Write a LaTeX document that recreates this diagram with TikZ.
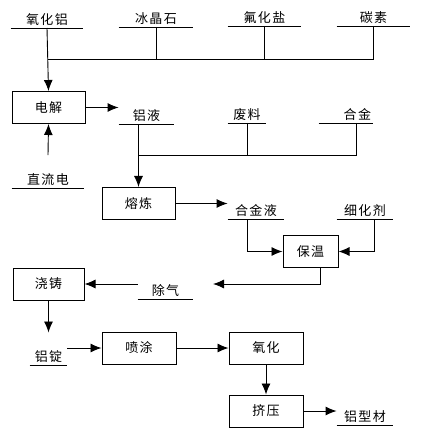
\documentclass[tikz,border=0pt]{standalone}
\usepackage{fontspec}
\newfontfamily\cjk[LetterSpace=10]{Noto Sans CJK SC}
\usepackage{tikz}
\usetikzlibrary{arrows.meta,positioning,calc}
\tikzstyle{box} = [draw,line width=1pt,minimum width=73pt,minimum height=32pt,inner sep=0pt,font=\cjk\fontsize{13}{15}\selectfont]
\tikzstyle{lbl} = [anchor=south,inner xsep=0pt,inner ysep=1pt,text height=11pt,text depth=2pt,font=\cjk\fontsize{13}{15}\selectfont]
\tikzset{>={Latex[length=11pt,width=9pt]}}

\begin{document}
\begin{tikzpicture}[x=1pt,y=-1pt,line width=0.9pt]
    \useasboundingbox (0,0) rectangle (431,443);

    \node [lbl,minimum width=72pt] (yhl) at (47,28) {氧化铝};
    \node [lbl,minimum width=74pt] (bjs) at (156,27) {冰晶石};
    \node [lbl,minimum width=73pt] (fhy) at (264.5,26) {氟化盐};
    \node [lbl,minimum width=73pt] (ts) at (373.5,26) {碳素};
    \node [box] (dj) at (48.5,107.5) {电解};
    \node [lbl,minimum width=55pt] (ly) at (146.5,124) {铝液};
    \node [lbl,minimum width=38pt] (fl) at (247,123) {废料};
    \node [lbl,minimum width=54pt,text width=50pt,align=right] (hj) at (346,123) {合金};
    \node [lbl,minimum width=72pt] (zld) at (48,188) {直流电};
    \node [box] (rl) at (138.5,203.5) {熔炼};
    \node [lbl,minimum width=56pt] (hjy) at (256,219) {合金液};
    \node [lbl,minimum width=56pt] (xhj) at (365,219) {细化剂};
    \node [box,minimum width=55pt] (bw) at (310.5,251.5) {保温};
    \node [lbl,minimum width=55pt] (cq) at (165.5,299) {除气};
    \node [box,minimum width=71pt] (jz) at (48.5,284) {浇铸};
    \node [lbl,minimum width=37pt] (ld) at (48.5,365) {铝锭};
    \node [box,minimum width=74pt] (pt) at (139,348) {喷涂};
    \node [box,minimum width=74pt] (yh) at (266,348) {氧化};
    \node [box,minimum width=74pt] (jy) at (266,411) {挤压};
    \node [lbl,minimum width=56pt] (lxc) at (365,425) {铝型材};

    \foreach \n in {yhl,bjs,fhy,ts,ly,fl,hj,zld,hjy,xhj,cq,ld,lxc}
        \draw (\n.south west) -- (\n.south east);

    \coordinate (bus) at (48,59);
    \draw [->] (yhl.south) -- (dj.north);
    \draw (bjs.south) -- (bjs.south |- bus);
    \draw (fhy.south) -- (fhy.south |- bus);
    \draw (ts.south) |- (bus);
    \draw [->] ([yshift=17pt]zld.north) -- (dj.south);
    \draw [->] (dj.east) -- (dj.east -| ly.west);

    \coordinate (bus2) at (138,155);
    \draw [->] (ly.south -| rl.north) -- (rl.north);
    \draw (fl.south) -- (fl.south |- bus2);
    \draw ([xshift=10pt]hj.south) |- (bus2);
    \draw [->] (rl.east) -- (rl.east -| hjy.west);
    \draw [->] ([xshift=-9pt]hjy.south) |- (bw.west);
    \draw [->] ([xshift=9pt]xhj.south) |- (bw.east);

    \coordinate (cqin) at (213,284);
    \draw [->] ([xshift=9.5pt]bw.south) |- (cqin);
    \draw [->] (cq.west |- jz.east) -- (jz.east);
    \draw [->] (jz.south) -- ++(0,32);
    \draw [->] (ld.east |- pt.west) -- (pt.west);
    \draw [->] (pt.east) -- (yh.west);
    \draw [->] (yh.south) -- (jy.north);
    \draw [->] (jy.east) -- (jy.east -| lxc.west);
\end{tikzpicture}
\end{document}
